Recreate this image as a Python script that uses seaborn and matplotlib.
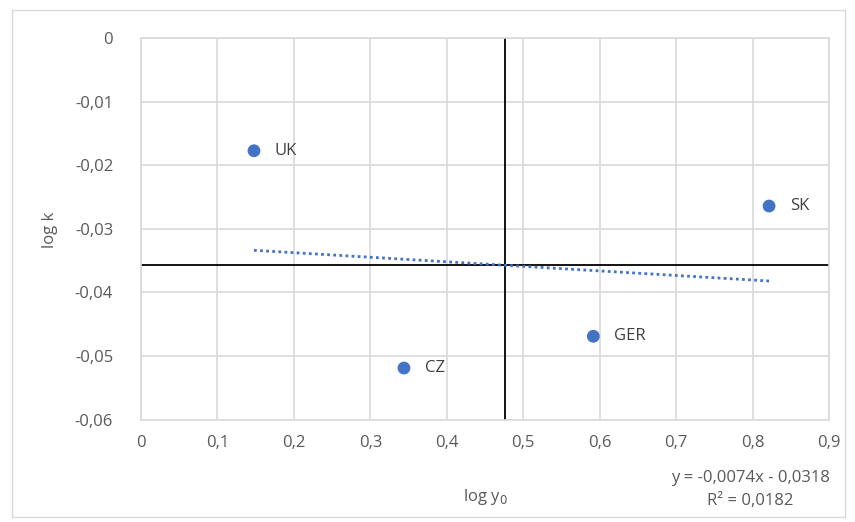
import numpy as np
import pandas as pd
import matplotlib
matplotlib.use("Agg")
import matplotlib.pyplot as plt
from matplotlib.ticker import FuncFormatter, MultipleLocator
from matplotlib.patches import Rectangle
import seaborn as sns

# dane
kraje = ["UK", "CZ", "GER", "SK"]
log_y0 = [0.1478, 0.344, 0.5917, 0.8216]
log_k = [-0.0177, -0.0519, -0.0469, -0.0264]

df = pd.DataFrame({"kraj": kraje, "log_y0": log_y0, "log_k": log_k})

sns.set_style("white")
plt.rcParams["font.family"] = ["Open Sans", "DejaVu Sans"]

niebieski = "#4472C4"
szary = "#595959"

fig = plt.figure(figsize=(8.55, 5.22), dpi=100)
top, bottom = 38.3, 419.5
ax = fig.add_axes([141 / 855, 1 - bottom / 522, (829 - 141) / 855, (bottom - top) / 522])

# ramka wykresu (jak w Excelu)
fig.patches.append(Rectangle((12 / 855, 1 - 517 / 522), 833 / 855, 507 / 522,
                             transform=fig.transFigure, fill=False,
                             edgecolor="#d9d9d9", lw=1))

# linie srednich
ax.axvline(df.log_y0.mean(), color="black", lw=1.3, zorder=2)
ax.axhline(df.log_k.mean(), color="black", lw=1.3, zorder=2)

sns.regplot(data=df, x="log_y0", y="log_k", ax=ax, ci=None,
            scatter_kws={"s": 85, "color": niebieski, "zorder": 4, "edgecolor": "none", "alpha": 1},
            line_kws={"color": niebieski, "lw": 2, "ls": (0, (1, 1.2)), "zorder": 3})

for _, r in df.iterrows():
    ax.annotate(r.kraj, (r.log_y0, r.log_k), xytext=(15, 0), textcoords="offset points",
                va="center", ha="left", fontsize=12, color="#404040")

ax.set_xlim(0, 0.9)
ax.set_ylim(-0.06, 0)
ax.xaxis.set_major_locator(MultipleLocator(0.1))
ax.yaxis.set_major_locator(MultipleLocator(0.01))

def przecinek(v, pos):
    if abs(v) < 1e-9:
        return "0"
    return ("%g" % round(v, 3)).replace(".", ",")

ax.xaxis.set_major_formatter(FuncFormatter(przecinek))
ax.yaxis.set_major_formatter(FuncFormatter(przecinek))
ax.tick_params(axis="both", labelsize=12, labelcolor=szary, length=0)
ax.tick_params(axis="x", pad=11)
ax.tick_params(axis="y", pad=20)
ax.grid(True, color="#d9d9d9", lw=1.2)
for s in ax.spines.values():
    s.set_color("#d9d9d9")
    s.set_linewidth(1.2)

ax.set_xlabel("log y$_0$", fontsize=12, color=szary)
ax.xaxis.set_label_coords((485 - 141) / (829 - 141), -(487 - bottom) / (bottom - top))
ax.set_ylabel("log k", fontsize=12, color=szary)
ax.yaxis.set_label_coords(-(141 - 58) / (829 - 141), (bottom - 230) / (bottom - top))

fig.text(750 / 855, 1 - 478 / 522, "y = -0,0074x - 0,0318", ha="center", va="center",
         fontsize=12, color=szary)
fig.text(750 / 855, 1 - 501 / 522, "R² = 0,0182", ha="center", va="center",
         fontsize=12, color=szary)

fig.savefig("out.png", dpi=100)
